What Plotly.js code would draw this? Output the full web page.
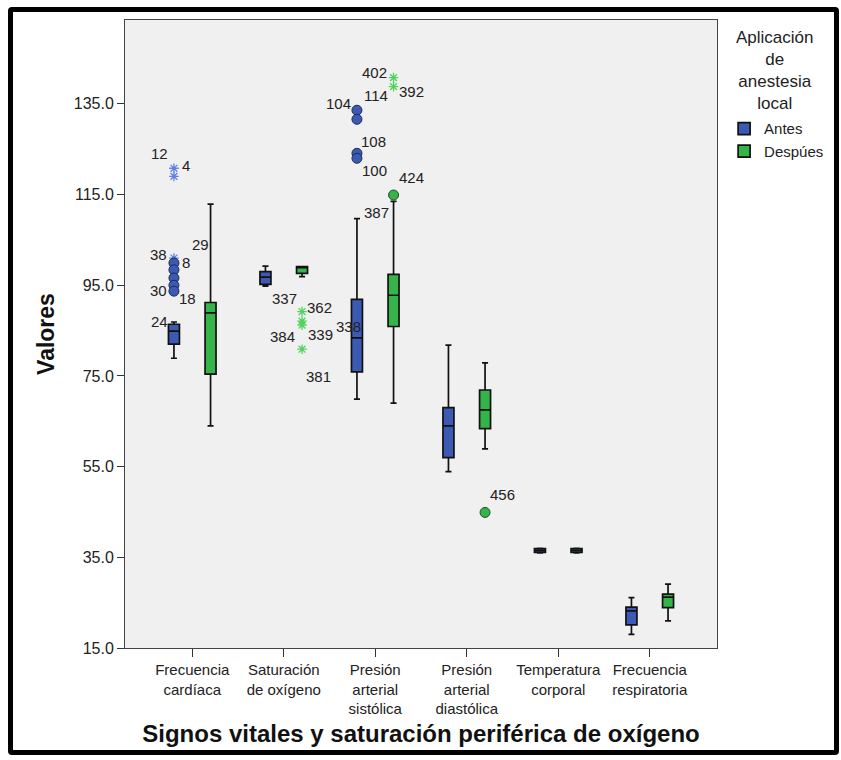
<!DOCTYPE html>
<html>
<head>
<meta charset="utf-8">
<script src="https://cdn.plot.ly/plotly-3.0.1.min.js"></script>
<style>
  html, body { margin: 0; padding: 0; background: #ffffff; }
  #wrap { position: relative; width: 841px; height: 760px; }
  #chart { position: absolute; left: 0; top: 0; width: 841px; height: 760px; }
  #frame { position: absolute; left: 8px; top: 7px; width: 831px; height: 748px; box-sizing: border-box;
           border: 5px solid #000; border-radius: 4px; pointer-events: none; }
</style>
</head>
<body>
<div id="wrap">
  <div id="chart"></div>
  <div id="frame"></div>
</div>
<script>
// ---- Data ----
const categories = ["Frecuencia<br>cardíaca", "Saturación<br>de oxígeno", "Presión<br>arterial<br>sistólica",
                    "Presión<br>arterial<br>diastólica", "Temperatura<br>corporal", "Frecuencia<br>respiratoria"];
const categoryIndex = [0, 1, 2, 3, 4, 5];

// Antes
const antesLower  = [78.9, 94.8, 69.9, 53.9, 36.0, 18.0];
const antesQ1     = [82.0, 95.2, 75.9, 57.0, 36.1, 20.1];
const antesMedian = [84.9, 96.8, 83.4, 64.0, 36.5, 23.2];
const antesQ3     = [86.4, 98.0, 91.9, 68.0, 36.9, 24.0];
const antesUpper  = [86.9, 99.2, 109.7, 81.8, 37.0, 26.1];

// Después
const despuesLower  = [64.0, 96.9, 69.0, 58.9, 36.0, 21.0];
const despuesQ1     = [75.4, 97.6, 85.9, 63.4, 36.1, 23.9];
const despuesMedian = [88.9, 98.9, 92.8, 67.5, 36.5, 26.2];
const despuesQ3     = [91.2, 99.1, 97.4, 71.9, 36.9, 26.9];
const despuesUpper  = [112.9, 99.1, 113.5, 77.9, 37.0, 29.1];

// Outliers (circles = atípicos, stars = extremos)
const antesOutCat = [0, 0, 0, 0, 0, 2, 2, 2, 2];
const antesOutVal = [99.9, 98.4, 96.6, 95.0, 93.7, 133.6, 131.6, 124.1, 123.0];
const antesExtCat = [0, 0, 0];
const antesExtVal = [120.8, 119.0, 101.0];
const despuesOutCat = [2, 3];
const despuesOutVal = [114.9, 44.9];
const despuesExtCat = [1, 1, 1, 1, 2, 2];
const despuesExtVal = [89.2, 87.1, 86.2, 80.9, 140.8, 138.8];

// Case labels
const caseLabels = ["12", "4", "38", "8", "30", "18", "24", "29", "337", "362", "384", "339", "381", "338",
                    "104", "114", "108", "100", "387", "402", "392", "424", "456"];
const labelCat   = [0, 0, 0, 0, 0, 0, 0, 0, 1, 1, 1, 1, 1, 1, 2, 2, 2, 2, 2, 2, 2, 2, 3];
const labelGroup = ["A", "A", "A", "A", "A", "A", "A", "D", "A", "D", "D", "D", "D", "D",
                    "A", "A", "A", "A", "A", "D", "D", "D", "D"];
const labelVal   = [120.8, 120.8, 99.9, 99.9, 93.7, 93.7, 86.9, 104.0, 93.5, 89.2, 86.2, 86.2, 80.9, 87.1,
                    133.6, 133.6, 124.1, 123.0, 109.7, 140.8, 138.8, 114.9, 44.9];

const yTicks = [15, 35, 55, 75, 95, 115, 135];
const legendTitle = "Aplicación<br>de<br>anestesia<br>local";

// ---- Styles ----
const labelDx = [-14, 12, -15, 12, -15, 14, -14, -10, 19, 17, -20, 18, 16, 46, -18, 19, 17, 18, 20, -19, 18, 18, 17];
const labelDy = [15, 3, 9, 1, 1, -7, 0, 0, -6, 4, -11, -9, -27, -5, 7, 15, 12, -12, 6, 5, -5, 18, 18];
const offset = { A: -0.2, D: 0.2 };
const blue = "#3c5ab4", green = "#35b44a";
const blueStar = "#5f82de", greenStar = "#4fd35e";
const FONT = "Liberation Sans, Arial, sans-serif";

function boxTrace(name, off, lower, q1, med, q3, upper, color) {
  return {
    type: "box", name: name,
    x: categoryIndex.map(i => i + off),
    lowerfence: lower, q1: q1, median: med, q3: q3, upperfence: upper,
    width: 0.12, whiskerwidth: 0.55, boxpoints: false,
    fillcolor: color, line: { color: "#111111", width: 1.7 },
    hoverinfo: "y"
  };
}
function pts(cat, val, off, symbol, color, lineColor, size, lw) {
  return {
    type: "scatter", mode: "markers", showlegend: false,
    x: cat.map(i => i + off), y: val,
    marker: { symbol: symbol, color: color, size: size, line: { color: lineColor, width: lw } }
  };
}

const traces = [
  boxTrace("Antes", offset.A, antesLower, antesQ1, antesMedian, antesQ3, antesUpper, blue),
  boxTrace("Despúes", offset.D, despuesLower, despuesQ1, despuesMedian, despuesQ3, despuesUpper, green),
  pts(antesExtCat, antesExtVal, offset.A, "asterisk-open", blueStar, blueStar, 8, 1.3),
  pts(despuesExtCat, despuesExtVal, offset.D, "asterisk-open", greenStar, greenStar, 8, 1.3),
  pts(antesOutCat, antesOutVal, offset.A, "circle", blue, "#1c2a55", 10, 1),
  pts(despuesOutCat, despuesOutVal, offset.D, "circle", green, "#1f4d25", 10, 1)
];

const annotations = caseLabels.map((t, i) => ({
  x: labelCat[i] + offset[labelGroup[i]], y: labelVal[i], xref: "x", yref: "y",
  text: t, showarrow: false, xshift: labelDx[i], yshift: labelDy[i],
  font: { family: FONT, size: 15, color: "#222222" }
}));
annotations.push({
  xref: "paper", yref: "paper", x: 1.098, y: 0.99, xanchor: "center", yanchor: "top",
  text: legendTitle, showarrow: false, align: "center",
  font: { family: FONT, size: 17, color: "#222222" }
});

const layout = {
  width: 841, height: 760,
  margin: { l: 125, r: 119, t: 20, b: 112 },
  paper_bgcolor: "rgba(0,0,0,0)",
  plot_bgcolor: "#f0f0f0",
  showlegend: true,
  font: { family: FONT, size: 15, color: "#222222" },
  xaxis: {
    type: "linear", range: [-0.735, 5.735],
    tickmode: "array", tickvals: categoryIndex, ticktext: categories,
    ticks: "outside", ticklen: 8, tickwidth: 1, tickcolor: "#333",
    showline: true, linecolor: "#444", linewidth: 1, mirror: true,
    showgrid: false, zeroline: false,
    tickfont: { family: FONT, size: 15, color: "#222" },
    title: { text: "Signos vitales y saturación periférica de oxígeno",
             font: { family: FONT, size: 24, color: "#111", weight: "bold" }, standoff: 9 }
  },
  yaxis: {
    range: [15, 153.5],
    tickmode: "array", tickvals: yTicks, ticktext: yTicks.map(v => v.toFixed(1)),
    ticks: "outside", ticklen: 7, tickwidth: 1, tickcolor: "#333",
    showline: true, linecolor: "#444", linewidth: 1, mirror: true,
    showgrid: false, zeroline: false,
    tickfont: { family: FONT, size: 16, color: "#222" },
    title: { text: "Valores", font: { family: FONT, size: 23, color: "#111", weight: "bold" }, standoff: 12 }
  },
  legend: {
    x: 1.012, xanchor: "left", y: 0.853, yanchor: "top",
    bgcolor: "rgba(0,0,0,0)",
    font: { family: FONT, size: 15, color: "#222" },
    itemwidth: 30, tracegroupgap: 0
  },
  annotations: annotations
};

Plotly.newPlot("chart", traces, layout, { displayModeBar: false, staticPlot: true });
</script>
</body>
</html>
